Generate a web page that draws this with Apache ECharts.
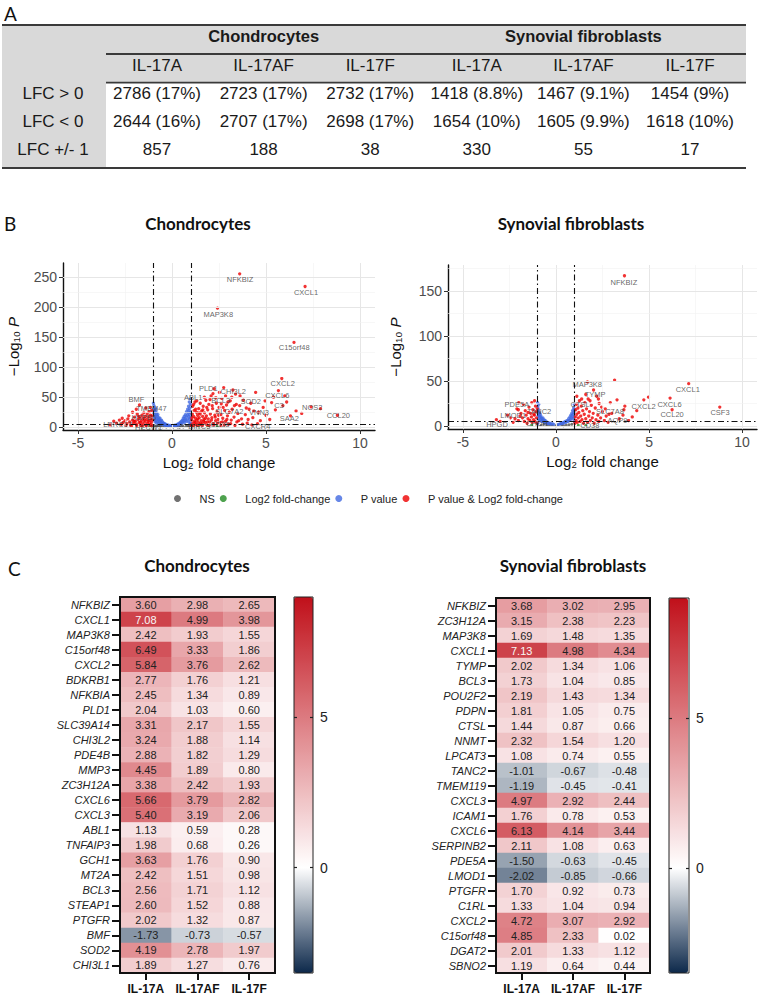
<!DOCTYPE html>
<html><head><meta charset="utf-8">
<script src="https://cdn.jsdelivr.net/npm/echarts@6/dist/echarts.min.js"></script>
<style>html,body{margin:0;padding:0;background:#fff}#c{width:758px;height:995px}</style>
</head><body><div id="c"></div>
<script>
// ---------- DATA ----------
// Panel A table
const tableGroups = ['Chondrocytes', 'Synovial fibroblasts'];
const tableCols = ['IL-17A', 'IL-17AF', 'IL-17F', 'IL-17A', 'IL-17AF', 'IL-17F'];
const tableRowLabels = ['LFC > 0', 'LFC < 0', 'LFC +/- 1'];
const tableLfcUp = ['2786 (17%)', '2723 (17%)', '2732 (17%)', '1418 (8.8%)', '1467 (9.1%)', '1454 (9%)'];
const tableLfcDown = ['2644 (16%)', '2707 (17%)', '2698 (17%)', '1654 (10%)', '1605 (9.9%)', '1618 (10%)'];
const tableLfc1 = ['857', '188', '38', '330', '55', '17'];

// Panel B volcano – chondrocytes  [log2FC, -log10 P]
const chonNS = [[-0.9,0.8],[-0.7,0.4],[-0.5,1.1],[-0.3,0.5],[-0.1,0.9],[0.05,0.3],[0.15,1.4],[0.3,0.7],[0.45,1.2],[0.6,0.5],[0.75,1.6],[0.9,0.9],[-0.85,2.2],[-0.6,2.8],[-0.2,2.0],[0.25,2.5],[0.55,3.1],[0.85,2.6],[-0.4,3.5],[0.0,1.6],[-0.75,1.5],[0.4,0.2]];
const chonFC = [[1.1,1.0],[1.4,0.6],[-1.2,0.7],[1.9,0.4],[2.4,1.1],[-1.6,0.3]];
const chonP = [[-0.99,40],[-0.98,31],[-0.97,24],[-0.96,36],[-0.95,18],[-0.94,28],[-0.93,13],[-0.92,33],[-0.91,22],[-0.9,9],[-0.89,26],[-0.88,16],[-0.86,30],[-0.85,11],[-0.84,20],[-0.82,7],[-0.81,24],[-0.8,14],[-0.78,18],[-0.76,9],[-0.75,21],[-0.73,12],[-0.71,16],[-0.7,6],[-0.68,13],[-0.66,9],[-0.64,15],[-0.62,5],[-0.6,11],[-0.58,8],[-0.56,12],[-0.53,6],[-0.5,9],[-0.47,5],[-0.45,7],[-0.42,4],[-0.4,6],[-0.37,3],[-0.34,5],[-0.3,3],[-0.27,4],[-0.23,2.5],[-0.2,3.5],[-0.15,2],[-0.1,3],
  [0.0,2],[0.05,3],[0.1,2.5],[0.15,3.5],[0.2,3],[0.25,4],[0.3,5],[0.33,3.5],[0.36,6],[0.4,5],[0.43,8],[0.46,6],[0.5,10],[0.53,7],[0.56,12],[0.58,9],[0.6,15],[0.63,11],[0.65,18],[0.67,8],[0.69,14],[0.71,21],[0.73,12],[0.75,17],[0.77,26],[0.79,10],[0.81,20],[0.83,30],[0.84,14],[0.86,24],[0.88,35],[0.89,18],[0.9,9],[0.91,28],[0.92,42],[0.93,21],[0.94,13],[0.95,32],[0.96,48],[0.97,25],[0.98,16],[0.99,38],[0.99,7],[0.95,5]];
const chonSig = [[-1.05,3],[-1.1,8],[-1.12,14],[-1.15,20],[-1.18,5],[-1.2,11],[-1.22,26],[-1.25,17],[-1.3,7],[-1.32,22],[-1.35,13],[-1.4,4],[-1.42,18],[-1.45,9],[-1.5,24],[-1.52,15],[-1.55,6],[-1.6,20],[-1.62,11],[-1.65,3],[-1.7,16],[-1.73,37],[-1.75,8],[-1.8,13],[-1.85,22],[-1.9,5],[-1.95,10],[-2.0,17],[-2.05,7],[-2.1,12],[-2.2,4],[-2.25,9],[-2.35,14],[-2.4,6],[-2.5,11],[-2.6,8],[-2.7,5],[-2.8,12],[-2.95,7],[-3.1,10],[-3.3,4],[-1.9,30],[-1.4,32],[-2.1,25],[-1.08,28],[-1.15,33],[-2.3,19],[-1.03,12],[-1.07,19],[-1.13,2],[-1.27,10],[-1.37,2],[-1.47,12],[-1.58,2],[-1.68,8],[-1.78,18],[-1.88,3],[-2.02,10],[-2.15,2],[-2.45,3],[-2.65,15],
  [1.02,4],[1.05,12],[1.08,22],[1.1,35],[1.12,7],[1.15,18],[1.18,28],[1.2,10],[1.22,42],[1.25,15],[1.28,5],[1.3,25],[1.33,12],[1.36,20],[1.4,8],[1.42,31],[1.45,16],[1.48,4],[1.5,22],
  [1.55,11],[1.58,27],[1.6,6],[1.63,18],[1.66,35],[1.7,13],[1.73,24],[1.76,8],[1.8,45],[1.83,19],[1.86,4],[1.9,29],[1.93,14],[1.96,38],[2.0,9],[2.04,22],[2.08,52],[2.12,16],[2.16,31],[2.2,6],[2.24,64],[2.28,20],[2.32,11],[2.36,40],[2.4,26],[2.45,13],[2.5,33],
  [2.55,8],[2.6,21],[2.65,48],[2.7,15],[2.75,66],[2.8,28],[2.85,10],[2.9,37],[2.95,19],[3.0,5],[3.05,25],[3.1,44],[3.15,12],[3.2,30],[3.24,62],[3.3,17],[3.38,55],[3.45,9],[3.5,23],
  [3.6,36],[3.7,14],[3.8,45],[3.9,21],[4.0,7],[4.1,30],[4.19,40],[4.3,16],[4.45,58],[4.6,25],[4.7,11],[4.85,33],[5.0,20],[5.2,13],[5.3,41],
  [5.4,50],[5.5,29],[5.66,61],[5.84,81],[5.9,36],[6.0,52],[6.1,42],[6.3,19],[6.6,27],[6.9,23],[7.4,34],[7.9,31],[6.49,141],[7.08,234],[3.6,255],[2.42,198],[8.8,20],
  [1.03,2],[1.06,16],[1.14,3],[1.24,8],[1.34,3],[1.38,14],[1.52,7],[1.62,3],[1.68,10],[1.78,15],[1.88,9],[1.98,3],[2.1,12],[2.22,4],[2.3,17],[2.42,7],[2.58,3],[2.68,9],[2.78,4],[2.92,13],[3.12,6],[3.35,3],[3.55,11],[3.75,5],[4.05,13],[4.25,4],[4.55,6],
  [1.15,38],[1.32,44],[1.5,40],[1.72,50],[1.85,33],[2.02,46],[2.18,56],[2.33,49],[2.52,58],[2.62,39],[2.85,52],[2.98,42],[3.18,50],[3.42,38],[3.62,52],[3.95,32],[4.35,27],[4.95,44],[1.26,30],[1.44,24],[1.64,29],[2.14,36],[2.48,20],[2.72,33],[3.32,36]];
const chonLabels = [[3.62,245,'NFKBIZ'],[7.13,224,'CXCL1'],[2.46,188,'MAP3K8'],[6.5,132,'C15orf48'],[5.89,72,'CXCL2'],[5.6,52,'CXCL6'],[1.93,65,'PLD1'],[3.26,60,'CHI3L2'],[1.13,50,'ABL1'],[2.59,44,'BCL3'],[4.19,43,'SOD2'],[5.69,36,'C3'],[7.46,33,'NOS2'],[4.63,25,'VNN3'],[3.05,27,'SLC7A2'],[6.24,15,'SAA2'],[8.85,19,'CCL20'],[4.56,1,'CXCR4'],[2.55,5,'CD38'],[1.45,1,'BIRC3'],[-1.9,47,'BMF'],[-1.1,31,'TMEM47'],[-1.5,16,'HSPB6'],[-2.9,4,'LRRC17'],[-1.25,0,'HECW1']];

// Panel B volcano – synovial fibroblasts
const sfNS = [[-0.8,0.5],[-0.5,1.0],[-0.2,0.4],[0.1,0.8],[0.4,0.3],[0.7,1.2],[-0.65,1.8],[0.3,1.5],[0.0,0.2],[-0.35,0.9],[0.55,0.6],[0.85,1.8]];
const sfFC = [[1.2,0.8],[-1.3,1.0],[1.6,0.5]];
const sfP = [[-0.99,26],[-0.98,16],[-0.97,21],[-0.96,11],[-0.95,14],[-0.94,8],[-0.93,18],[-0.91,12],[-0.9,6],[-0.89,15],[-0.87,10],[-0.85,13],[-0.83,7],[-0.81,11],[-0.79,9],[-0.77,5],[-0.75,8],[-0.72,6],[-0.7,9],[-0.67,5],[-0.64,7],[-0.61,4],[-0.58,6],[-0.55,3.5],[-0.5,4.5],[-0.46,3],[-0.42,3.5],[-0.38,2.5],[-0.33,3],[-0.28,2],[-0.2,2.5],[-0.12,1.8],[-0.97,3],[-0.92,24],
  [0.1,1.5],[0.18,2],[0.25,2.5],[0.3,3],[0.35,2.5],[0.4,4],[0.45,3.5],[0.5,5],[0.55,4],[0.6,6],[0.64,5],[0.68,8],[0.72,6],[0.75,10],[0.78,7],[0.8,12],[0.83,9],[0.85,14],[0.87,11],[0.89,17],[0.91,8],[0.93,13],[0.95,20],[0.96,15],[0.97,10],[0.98,24],[0.99,18],[0.99,5]];
const sfSig = [[-1.02,3],[-1.05,9],[-1.08,16],[-1.1,22],[-1.13,5],[-1.16,12],[-1.2,7],[-1.24,18],[-1.28,4],[-1.32,10],[-1.36,14],[-1.4,6],[-1.45,21],[-1.5,8],[-1.55,3],[-1.6,12],[-1.65,17],[-1.7,5],[-1.75,24],[-1.8,9],[-1.88,14],[-1.93,11],[-2.0,26],[-2.02,6],[-2.1,19],[-2.2,8],[-2.3,4],[-2.45,9],[-2.6,12],[-3.0,5],[-3.2,7],[-1.3,26],[-1.15,28],[-1.01,19],[-1.19,13],[-1.5,15],[-2.02,18],
  [1.02,3],[1.04,10],[1.06,18],[1.08,6],[1.1,24],[1.12,13],[1.15,4],[1.18,20],[1.2,9],[1.23,15],[1.26,28],[1.3,5],[1.33,11],[1.36,22],[1.4,7],[1.44,17],[1.48,3],[1.52,13],[1.55,26],[1.6,8],[1.64,19],[1.69,49],[1.7,4],[1.73,30],[1.76,11],[1.8,16],[1.85,6],[1.9,23],[1.95,9],[2.0,14],[2.02,40],[2.05,3],[2.11,20],[2.15,7],[2.19,33],[2.25,12],[2.3,5],[2.32,25],[2.4,9],[2.5,16],[2.6,6],[2.7,11],[2.8,4],[2.92,26],[3.0,14],[3.15,51],[3.28,29],[3.4,8],[3.6,12],[3.65,18],[3.7,22],[3.9,6],[4.1,10],[4.34,17],[4.72,29],[4.97,32],[6.13,31],[7.13,47],[3.68,167],[6.24,18],[8.8,21],
  [1.12,33],[1.38,30],[1.6,35],[1.83,28],[2.28,30],[2.45,21],[2.65,19],[2.85,13]];
const sfLabels = [[3.65,160,'NFKBIZ'],[1.68,46,'MAP3K8'],[2.1,35,'TYMP'],[7.08,40,'CXCL1'],[6.1,24,'CXCL6'],[4.71,22,'CXCL2'],[6.24,12.6,'CCL20'],[8.81,15,'CSF3'],[2.9,16,'SLC7A8'],[3.3,6,'AQP9'],[1.82,0,'CD38'],[-3.17,2,'HPGD'],[-1.03,3,'CHDH'],[-2.1,24,'PDE5A'],[-0.9,16,'TANC2'],[-2.3,12,'LMOD1'],[1.3,24,'CTSL']];

// Panel C heatmaps
const heatCols = ['IL-17A', 'IL-17AF', 'IL-17F'];
const chonGenes = ['NFKBIZ','CXCL1','MAP3K8','C15orf48','CXCL2','BDKRB1','NFKBIA','PLD1','SLC39A14','CHI3L2','PDE4B','MMP3','ZC3H12A','CXCL6','CXCL3','ABL1','TNFAIP3','GCH1','MT2A','BCL3','STEAP1','PTGFR','BMF','SOD2','CHI3L1'];
const chonIL17A  = [3.60,7.08,2.42,6.49,5.84,2.77,2.45,2.04,3.31,3.24,2.88,4.45,3.38,5.66,5.40,1.13,1.98,3.63,2.42,2.56,2.60,2.02,-1.73,4.19,1.89];
const chonIL17AF = [2.98,4.99,1.93,3.33,3.76,1.76,1.34,1.03,2.17,1.88,1.82,1.89,2.42,3.79,3.19,0.59,0.68,1.76,1.51,1.71,1.52,1.32,-0.73,2.78,1.27];
const chonIL17F  = [2.65,3.98,1.55,1.86,2.62,1.21,0.89,0.60,1.55,1.14,1.29,0.80,1.93,2.82,2.06,0.28,0.26,0.90,0.98,1.12,0.88,0.87,-0.57,1.97,0.76];
const sfGenes = ['NFKBIZ','ZC3H12A','MAP3K8','CXCL1','TYMP','BCL3','POU2F2','PDPN','CTSL','NNMT','LPCAT3','TANC2','TMEM119','CXCL3','ICAM1','CXCL6','SERPINB2','PDE5A','LMOD1','PTGFR','C1RL','CXCL2','C15orf48','DGAT2','SBNO2'];
const sfIL17A  = [3.68,3.15,1.69,7.13,2.02,1.73,2.19,1.81,1.44,2.32,1.08,-1.01,-1.19,4.97,1.76,6.13,2.11,-1.50,-2.02,1.70,1.33,4.72,4.85,2.01,1.19];
const sfIL17AF = [3.02,2.38,1.48,4.98,1.34,1.04,1.43,1.05,0.87,1.54,0.74,-0.67,-0.45,2.92,0.78,4.14,1.08,-0.63,-0.85,0.92,1.04,3.07,2.33,1.33,0.64];
const sfIL17F  = [2.95,2.23,1.35,4.34,1.06,0.85,1.34,0.75,0.66,1.20,0.55,-0.48,-0.41,2.44,0.53,3.44,0.63,-0.45,-0.66,0.73,0.94,2.92,0.02,1.12,0.44];
const colorbarTicks = [0, 5];

// ---------- STYLE / LAYOUT ----------
const FONT = '"Liberation Sans", Arial, sans-serif';
const TFONT = 'Lato, "Open Sans", sans-serif';
const C_NS = '#4d4d4d', C_FC = '#228b22', C_P = '#4169e1', C_SIG = '#ee0000';
const NAVY = [12, 40, 74], RED = [192, 16, 26], WHITE = [255, 255, 255];
const HMIN = -3.5, HMAX = 9;
function mix(a, b, t) { return 'rgb(' + a.map((v, i) => Math.round(v + (b[i] - v) * t)).join(',') + ')'; }
const rampColors = [];
for (let k = 0; k <= 25; k++) { const v = HMIN + k * 0.5; rampColors.push(v < 0 ? mix(WHITE, NAVY, -v / 3.5) : mix(WHITE, RED, v / 9)); }

const chart = echarts.init(document.getElementById('c'), null, { renderer: 'svg', width: 758, height: 995 });

// ---------- TABLE (graphic) ----------
const g = [];
const TX0 = 2, TX1 = 746, TCOL0 = 106, colX0 = 157, colStep = 106.6;
const yTop = 25, yMid = 54, yHead = 82.7, yBot = 168;
g.push({ type: 'rect', shape: { x: TX0, y: yTop, width: TX1 - TX0, height: yHead - yTop }, style: { fill: '#d9d9d9' } });
g.push({ type: 'rect', shape: { x: TX0, y: yTop, width: TCOL0 - TX0, height: yBot - yTop }, style: { fill: '#d9d9d9' } });
[[TX0, yTop, 2.2], [TCOL0, yMid, 1.8], [TCOL0, yHead, 1.8], [TX0, yBot, 2.2]].forEach(l => {
  g.push({ type: 'line', shape: { x1: l[0], y1: l[1], x2: TX1, y2: l[1] }, style: { stroke: '#3a3a3a', lineWidth: l[2] } });
});
function txt(x, y, text, size, weight) {
  return { type: 'text', x: x, y: y, style: { text: text, font: (weight || 'normal') + ' ' + size + 'px ' + FONT, fill: '#1a1a1a', align: 'center', verticalAlign: 'middle' } };
}
tableGroups.forEach((t, i) => g.push(txt(colX0 + colStep * (1 + 3 * i), 35.7, t, 16.5, 'bold')));
tableCols.forEach((t, i) => g.push(txt(colX0 + colStep * i, 65, t, 17)));
const tableBody = [tableLfcUp, tableLfcDown, tableLfc1];
tableRowLabels.forEach((t, r) => {
  const y = 93.3 + r * 28;
  g.push(txt(53, y, t, 17));
  tableBody[r].forEach((v, i) => g.push(txt(colX0 + colStep * i, y, v, 17)));
});
// panel letters & titles
function letter(x, y, t) { return { type: 'text', x: x, y: y, style: { text: t, font: '19px ' + TFONT, fill: '#111', align: 'left', verticalAlign: 'middle' } }; }
g.push(letter(4, 13, 'A'), letter(4, 223, 'B'), letter(8, 568, 'C'));
function title(x, y, t) { return { type: 'text', x: x, y: y, style: { text: t, font: 'bold 17px ' + TFONT, fill: '#111', align: 'center', verticalAlign: 'middle' } }; }
g.push(title(198, 223, 'Chondrocytes'), title(571, 223, 'Synovial fibroblasts'));
g.push(title(197, 565, 'Chondrocytes'), title(573, 565, 'Synovial fibroblasts'));

// ---------- VOLCANO ----------
function volcanoAxes(gi, yMin, yMax, yTicks) {
  const x = {
    gridIndex: gi, type: 'value', min: -5.8, max: 10.8,
    axisLine: { show: true, onZero: false, lineStyle: { color: '#111', width: 1.4 } },
    axisTick: { show: true, length: 4, customValues: [-5, 0, 5, 10], lineStyle: { color: '#333' } },
    axisLabel: { customValues: [-5, 0, 5, 10], fontSize: 14, color: '#4d4d4d', margin: 6, fontFamily: FONT },
    splitLine: { show: false },
    name: 'Log\u2082 fold change', nameLocation: 'middle', nameGap: 25,
    nameTextStyle: { fontSize: 15, color: '#111', fontFamily: FONT }
  };
  const y = {
    gridIndex: gi, type: 'value', min: yMin, max: yMax,
    axisLine: { show: true, onZero: false, lineStyle: { color: '#111', width: 1.4 } },
    axisTick: { show: true, length: 4, customValues: yTicks, lineStyle: { color: '#333' } },
    axisLabel: { customValues: yTicks, fontSize: 14, color: '#4d4d4d', margin: 6, fontFamily: FONT },
    splitLine: { show: false },
    name: '{n|\u2212Log\u2081\u2080 }{i|P}', nameLocation: 'middle', nameGap: 42, nameRotate: 90,
    nameTextStyle: { fontSize: 15, color: '#111', fontFamily: FONT,
      rich: { n: { fontSize: 15, color: '#111', fontFamily: FONT }, i: { fontSize: 15, color: '#111', fontStyle: 'italic', fontFamily: FONT } } }
  };
  return [x, y];
}
function gridLinesSeries(ai, yMajor, yMinor) {
  const d = [];
  [-5, 0, 5, 10].forEach(v => d.push({ xAxis: v, lineStyle: { color: '#e6e6e6', width: 1, type: 'solid' } }));
  [-2.5, 2.5, 7.5].forEach(v => d.push({ xAxis: v, lineStyle: { color: '#f1f1f1', width: 0.6, type: 'solid' } }));
  yMajor.forEach(v => d.push({ yAxis: v, lineStyle: { color: '#e6e6e6', width: 1, type: 'solid' } }));
  yMinor.forEach(v => d.push({ yAxis: v, lineStyle: { color: '#f1f1f1', width: 0.6, type: 'solid' } }));
  return { type: 'scatter', xAxisIndex: ai, yAxisIndex: ai, data: [], z: 1, silent: true,
    markLine: { silent: true, symbol: ['none', 'none'], label: { show: false }, animation: false, data: d } };
}
function thresholdSeries(ai) {
  const ls = { color: '#111', width: 1.1, type: [6, 3, 1.5, 3] };
  return { type: 'scatter', xAxisIndex: ai, yAxisIndex: ai, data: [], z: 4, silent: true,
    markLine: { silent: true, symbol: ['none', 'none'], label: { show: false }, animation: false,
      data: [{ xAxis: -1, lineStyle: ls }, { xAxis: 1, lineStyle: ls }, { yAxis: 5, lineStyle: ls }] } };
}
function pts(name, ai, data, color, size) {
  return { name: name, type: 'scatter', xAxisIndex: ai, yAxisIndex: ai, data: data, symbolSize: size, z: 2,
    itemStyle: { color: color }, silent: true, animation: false };
}
function labelSeries(ai, data) {
  return { type: 'scatter', xAxisIndex: ai, yAxisIndex: ai, data: data, symbolSize: 1, z: 5, silent: true,
    itemStyle: { color: 'rgba(0,0,0,0)' }, labelLayout: { hideOverlap: false },
    label: { show: true, position: 'inside', formatter: p => p.value[2], fontSize: 7.5, color: '#3c3c3c', fontFamily: FONT } };
}

const [vx0, vy0] = volcanoAxes(0, -4.5, 273, [0, 50, 100, 150, 200, 250]);
const [vx1, vy1] = volcanoAxes(1, -3.4, 179, [0, 50, 100, 150]);
vy1.nameGap = 45;

// ---------- HEATMAP ----------
function heatData(a, b, c) {
  const out = [];
  [a, b, c].forEach((arr, ci) => arr.forEach((v, ri) => {
    const item = { value: [ci, ri, v] };
    if (v >= 7) item.label = { color: '#f7f7f7' };
    out.push(item);
  }));
  return out;
}
function heatAxes(gi, genes) {
  return [{
    gridIndex: gi, type: 'category', data: heatCols, position: 'bottom',
    axisLine: { show: false },
    axisTick: { show: true, alignWithLabel: true, interval: 0, length: 7, lineStyle: { color: '#111', width: 2 } },
    axisLabel: { interval: 0, fontSize: 12, fontWeight: 'bold', color: '#111', margin: 10, fontFamily: FONT },
    splitLine: { show: false }
  }, {
    gridIndex: gi, type: 'category', data: genes, inverse: true,
    axisLine: { show: false },
    axisTick: { show: true, alignWithLabel: true, interval: 0, length: 8, lineStyle: { color: '#111', width: 2 } },
    axisLabel: { interval: 0, fontSize: 11, fontStyle: 'italic', color: '#222', margin: 10, fontFamily: FONT },
    splitLine: { show: false }
  }];
}
function heatSeries(ai, data) {
  return { type: 'heatmap', xAxisIndex: ai, yAxisIndex: ai, data: data, silent: true, animation: false,
    label: { show: true, formatter: p => p.value[2].toFixed(2), fontSize: 11, color: '#222', fontFamily: FONT },
    emphasis: { disabled: true } };
}
function cbAxes(gi) {
  const tickStyle = { color: '#222', width: 1.2 };
  return {
    x: { gridIndex: gi, type: 'category', data: [''], show: false },
    yl: { gridIndex: gi, type: 'value', min: HMIN, max: HMAX, position: 'left', z: 10,
      axisLine: { show: false }, splitLine: { show: false }, axisLabel: { show: false },
      axisTick: { show: true, inside: true, length: 3, customValues: colorbarTicks, lineStyle: tickStyle } },
    yr: { gridIndex: gi, type: 'value', min: HMIN, max: HMAX, position: 'right', z: 10,
      axisLine: { show: false }, splitLine: { show: false },
      axisLabel: { customValues: colorbarTicks, fontSize: 14, color: '#222', margin: 7, fontFamily: FONT },
      axisTick: { show: true, inside: true, length: 3, customValues: colorbarTicks, lineStyle: tickStyle } }
  };
}
const [hx0, hy0] = heatAxes(2, chonGenes);
const [hx1, hy1] = heatAxes(3, sfGenes);
const cb0 = cbAxes(4), cb1 = cbAxes(5);

const series = [
  gridLinesSeries(0, [0, 50, 100, 150, 200, 250], [25, 75, 125, 175, 225]),
  pts('NS', 0, chonNS, C_NS, 3),
  pts('Log2 fold-change', 0, chonFC, C_FC, 3),
  pts('P value', 0, chonP, C_P, 3.3),
  pts('P value & Log2 fold-change', 0, chonSig, C_SIG, 3.3),
  thresholdSeries(0),
  labelSeries(0, chonLabels),
  gridLinesSeries(1, [0, 50, 100, 150], [25, 75, 125, 175]),
  pts('NS', 1, sfNS, C_NS, 3),
  pts('Log2 fold-change', 1, sfFC, C_FC, 3),
  pts('P value', 1, sfP, C_P, 3.3),
  pts('P value & Log2 fold-change', 1, sfSig, C_SIG, 3.3),
  thresholdSeries(1),
  labelSeries(1, sfLabels),
  heatSeries(2, heatData(chonIL17A, chonIL17AF, chonIL17F)),
  heatSeries(3, heatData(sfIL17A, sfIL17AF, sfIL17F))
];
const heatIdx0 = series.length - 2, heatIdx1 = series.length - 1;

function vm(si, left, top, h) {
  return { type: 'continuous', seriesIndex: si, min: HMIN, max: HMAX, calculable: false, hoverLink: false,
    inRange: { color: rampColors }, orient: 'vertical', left: left, top: top, itemWidth: 19, itemHeight: h,
    padding: 0, text: null, showLabel: false, z: 3 };
}

chart.setOption({
  animation: false,
  backgroundColor: '#ffffff',
  textStyle: { fontFamily: FONT },
  graphic: { elements: g },
  legend: {
    data: ['NS', 'Log2 fold-change', 'P value', 'P value & Log2 fold-change'],
    left: 174, top: 493, itemWidth: 34, itemHeight: 7, itemGap: 5, icon: 'circle', padding: 0,
    selectedMode: false, textStyle: { fontSize: 11, color: '#222', fontFamily: FONT }
  },
  grid: [
    { left: 63, top: 263, width: 312, height: 167, containLabel: false },
    { left: 448, top: 265, width: 309, height: 164, containLabel: false },
    { left: 120, top: 597, width: 155, height: 376, show: true, borderColor: '#111', borderWidth: 2, backgroundColor: 'transparent', z: 10 },
    { left: 496, top: 598, width: 154, height: 375, show: true, borderColor: '#111', borderWidth: 2, backgroundColor: 'transparent', z: 10 },
    { left: 294, top: 597, width: 19, height: 376, show: true, borderColor: '#222', borderWidth: 1, backgroundColor: 'transparent', z: 10 },
    { left: 669, top: 598, width: 20, height: 375, show: true, borderColor: '#222', borderWidth: 1, backgroundColor: 'transparent', z: 10 }
  ],
  xAxis: [vx0, vx1, hx0, hx1, cb0.x, cb1.x],
  yAxis: [vy0, vy1, hy0, hy1, cb0.yl, cb0.yr, cb1.yl, cb1.yr],
  visualMap: [vm(heatIdx0, 294, 597, 376), vm(heatIdx1, 669, 598, 375)],
  series: series
});
</script></body></html>
